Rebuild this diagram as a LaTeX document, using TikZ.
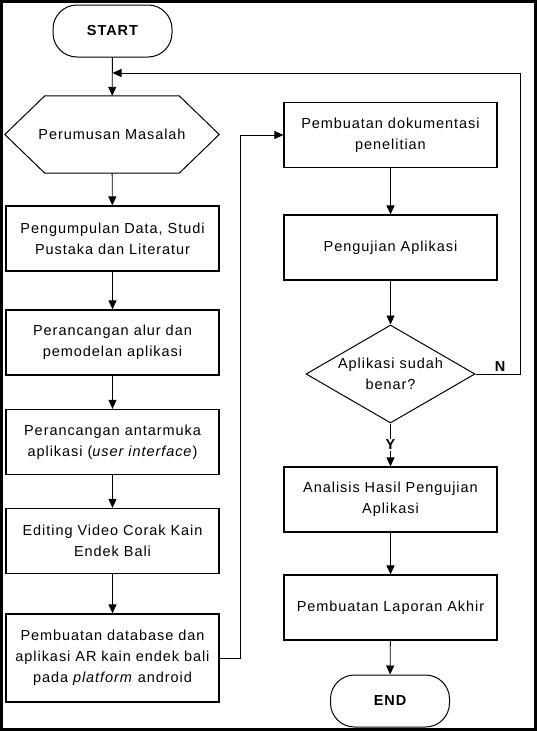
\documentclass[tikz,border=0pt]{standalone}
\usepackage{fontspec}
\setmainfont{Liberation Sans}[LetterSpace=6.5]
\usetikzlibrary{shapes.geometric,arrows.meta}
\begin{document}
\begin{tikzpicture}[x=1pt,y=-1pt,
  every node/.style={font=\fontsize{14.5}{21}\selectfont},
  procbox/.style={draw, line width=1.2pt, minimum width=213pt, minimum height=65pt, align=center, inner sep=2pt},
  termbox/.style={draw, line width=1pt, rounded corners=24pt, minimum width=119pt, minimum height=52pt, font=\fontsize{14.5}{21}\selectfont\bfseries},
  conn/.style={line width=0.9pt, -{Triangle[length=9pt,width=8pt]}},
  plainconn/.style={line width=0.9pt}
]
\useasboundingbox (0,0) rectangle (537,731);
\draw[line width=3pt] (1.5,1.5) rectangle (535.5,729.5);

% left column
\node[termbox] (start) at (112.5,31) {START};
\node[minimum width=214pt, minimum height=77pt, inner sep=0pt] (hex) at (112,134.5) {Perumusan Masalah};
\draw[line width=1pt] (hex.west) -- ([xshift=40pt]hex.north west) -- ([xshift=-40pt]hex.north east) -- (hex.east) -- ([xshift=-40pt]hex.south east) -- ([xshift=40pt]hex.south west) -- cycle;
\node[procbox] (b1) at (112.5,238.5) {Pengumpulan Data, Studi\\Pustaka dan Literatur};
\node[procbox] (b2) at (112.5,342.5) {Perancangan alur dan\\pemodelan aplikasi};
\node[procbox] (b3) at (112.5,442) {Perancangan antarmuka\\aplikasi (\textit{user interface})};
\node[procbox] (b4) at (112.5,541) {Editing Video Corak Kain\\Endek Bali};
\node[procbox, minimum height=88pt] (b5) at (112.5,658) {Pembuatan database dan\\aplikasi AR kain endek bali\\pada \textit{platform} android};

% right column
\node[procbox] (b6) at (390.5,135) {Pembuatan dokumentasi\\penelitian};
\node[procbox] (b7) at (390.5,247.5) {Pengujian Aplikasi};
\node[draw, line width=1pt, diamond, aspect=1.72, minimum width=169pt, minimum height=98pt, inner sep=0pt, align=center] (d) at (390.5,374) {Aplikasi sudah\\benar?};
\node[procbox] (b8) at (390.5,499.5) {Analisis Hasil Pengujian\\Aplikasi};
\node[procbox] (b9) at (390.5,607.5) {Pembuatan Laporan Akhir};
\node[termbox] (end) at (390,701) {END};

% coordinates
\coordinate (fb) at (112.5,73);
\coordinate (fbr) at (520,73);
\coordinate (nr) at (520,374);
\coordinate (jx) at (240,658);
\coordinate (jt) at (240,135);

% connectors
\draw[conn] (start) -- (hex);
\draw[conn] (hex) -- (b1);
\draw[conn] (b1) -- (b2);
\draw[conn] (b2) -- (b3);
\draw[conn] (b3) -- (b4);
\draw[conn] (b4) -- (b5);
\draw[conn] (b5.east) -- (jx) -- (jt) -- (b6.west);
\draw[conn] (b6) -- (b7);
\draw[conn] (b7) -- (d.north);
\draw[conn] (d.south) -- node[fill=white, inner sep=1pt, font=\fontsize{14.5}{21}\selectfont\bfseries] (ylab) {Y} (b8);
\draw[conn] (b8) -- (b9);
\draw[conn] (b9) -- (end);
\draw[conn] (d.east) -- (nr) -- (fbr) -- (fb);
\node[anchor=south, inner sep=1pt, font=\fontsize{14.5}{21}\selectfont\bfseries] (nlab) at (500,373) {N};
\end{tikzpicture}
\end{document}
